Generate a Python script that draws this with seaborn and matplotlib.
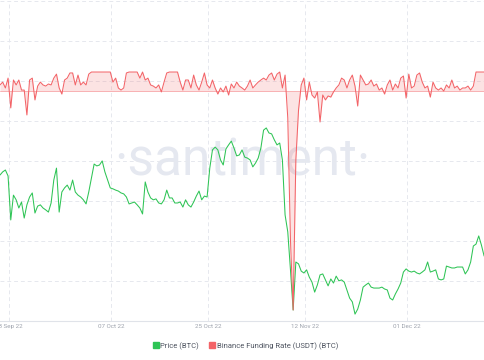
import numpy as np
import pandas as pd
import seaborn as sns
import matplotlib.pyplot as plt
import matplotlib.dates as mdates
from matplotlib.lines import Line2D

# 12-hourly samples, Sep 16 2022 08:00 -> Dec 15 2022 08:00
start = "2022-09-16 08:00"

price_btc = [
    19870, 19970, 20030, 19840, 18440, 19230, 19080, 18820, 19010, 18500,
    18920, 19170, 19300, 18660, 18880, 18920, 18820, 18760, 18690, 18980,
    19710, 20090, 18690, 19330, 19460, 19550, 19390, 19710, 19330, 19230,
    19170, 19080, 18950, 19330, 19780, 20220, 20160, 20190, 20320, 19970,
    19710, 19460, 19430, 19390, 19360, 19300, 19270, 19170, 18950, 18980,
    19010, 18920, 18820, 18630, 19650, 19330, 19140, 19080, 19110, 18980,
    18950, 19080, 19390, 19140, 19140, 18980, 18980, 19010, 18850, 19080,
    18920, 18850, 19010, 19200, 19360, 19080, 19200, 19170, 20090, 20670,
    20760, 20670, 20350, 20190, 20700, 20830, 20950, 20730, 20480, 20510,
    20670, 20440, 20410, 20350, 20130, 20250, 20410, 20730, 21300, 21370,
    21210, 21180, 20990, 20830, 20890, 20350, 18600, 18060, 16850, 15570,
    17100, 17040, 16810, 16750, 16850, 16620, 16460, 16140, 16370, 16690,
    16720, 16530, 16340, 16560, 16430, 16650, 16500, 16530, 16460, 16210,
    15950, 15830, 15440, 15600, 15890, 16300, 16370, 16430, 16300, 16270,
    16270, 16270, 16300, 16240, 16210, 15950, 15890, 16080, 16240, 16430,
    16780, 16880, 16810, 16780, 16810, 16750, 16720, 16780, 16850, 17100,
    16780, 16810, 16850, 16560, 16530, 16560, 16970, 16940, 16910, 16910,
    16940, 16940, 16940, 16720, 16850, 17100, 17610, 17670, 17930, 17640,
    17290,
]

funding_rate = [
    0.0032, 0.0047, 0.0016, 0.0068, -0.0089, 0.0058, 0.0032, 0.0058, 0.0005, 0.0005,
    -0.0126, 0.0058, 0.0068, -0.0047, 0.0026, 0.0047, 0.0032, 0.0026, 0.0037, 0.0032,
    0.0068, 0.0089, 0.0016, -0.0016, 0.0058, 0.0068, 0.0095, 0.0095, 0.0032, 0.0084,
    0.0032, 0.0047, 0.0032, 0.0089, 0.0100, 0.0100, 0.0100, 0.0100, 0.0100, 0.0100,
    0.0100, 0.0100, 0.0047, 0.0068, 0.0016, 0.0005, 0.0016, 0.0095, 0.0100, 0.0100,
    0.0100, 0.0100, 0.0068, 0.0100, 0.0058, 0.0068, 0.0032, 0.0026, 0.0016, 0.0032,
    -0.0005, 0.0047, 0.0095, 0.0100, 0.0100, 0.0100, 0.0100, 0.0047, 0.0005, 0.0058,
    0.0058, 0.0016, 0.0084, 0.0032, 0.0005, 0.0047, 0.0095, 0.0032, 0.0016, 0.0058,
    0.0016, -0.0016, 0.0016, -0.0005, 0.0026, -0.0021, 0.0037, 0.0016, 0.0047, 0.0026,
    0.0016, 0.0005, 0.0026, 0.0058, 0.0016, 0.0032, 0.0047, 0.0058, 0.0068, 0.0058,
    0.0084, 0.0095, 0.0058, 0.0089, 0.0100, 0.0016, 0.0084, -0.0142, -0.0784, -0.1153,
    -0.0363, -0.0100, 0.0032, 0.0068, -0.0047, 0.0047, -0.0021, -0.0037, -0.0005, -0.0163,
    -0.0021, -0.0047, -0.0026, -0.0032, -0.0005, 0.0016, 0.0032, 0.0068, 0.0058, 0.0016,
    0.0058, 0.0084, 0.0026, -0.0079, 0.0084, 0.0058, 0.0032, 0.0037, 0.0058, 0.0026,
    0.0037, 0.0005, 0.0016, -0.0016, 0.0032, 0.0058, 0.0005, 0.0037, 0.0016, 0.0068,
    0.0079, -0.0037, 0.0089, 0.0016, 0.0026, 0.0084, 0.0095, 0.0047, 0.0016, 0.0026,
    -0.0032, 0.0047, 0.0016, 0.0005, 0.0016, 0.0000, 0.0032, 0.0016, 0.0058, 0.0016,
    0.0026, 0.0005, 0.0016, 0.0016, 0.0026, 0.0005, 0.0026, 0.0100, 0.0100, 0.0100,
    0.0100,
]

tick_dates = ["2022-09-18", "2022-10-07", "2022-10-25", "2022-11-12", "2022-12-01"]

df = pd.DataFrame({
    "date": pd.date_range(start, periods=len(price_btc), freq="12h"),
    "price": price_btc,
    "funding": funding_rate,
})

green = "#2ec455"
red = "#f36468"

sns.set_style("white")
plt.rcParams["font.family"] = ["Roboto", "DejaVu Sans"]

fig = plt.figure(figsize=(4.85, 3.6), dpi=100)
ax = fig.add_axes([0, 39 / 360, 1, 320 / 360])
ax2 = ax.twinx()

# watermark
ax.text(0.5, 0.5, "\u00b7santiment\u00b7", transform=ax.transAxes, ha="center",
        va="center", fontsize=37, color="#e5e8f0", zorder=0)

sns.lineplot(data=df, x="date", y="price", ax=ax, color=green, linewidth=0.75, zorder=2)
sns.lineplot(data=df, x="date", y="funding", ax=ax2, color=red, linewidth=0.75, zorder=3)
ax2.fill_between(df["date"], df["funding"], 0, color=red, alpha=0.18, linewidth=0)
ax2.axhline(0, color=red, alpha=0.45, linewidth=0.7)

p_lo, p_hi = 15221, 25413
ax.set_ylim(p_lo, p_hi)
ax.set_yticks(np.linspace(p_lo, p_hi, 9))
ax2.set_ylim(-0.1211, 0.0474)
ax.set_xlim(pd.Timestamp("2022-09-16 08:00"), pd.Timestamp("2022-12-15 12:00"))

ax.set_xticks(pd.to_datetime(tick_dates))
ax.xaxis.set_major_formatter(mdates.DateFormatter("%d %b %y"))
ax.grid(True, color="#e6e8ee", linestyle=(0, (4, 3)), linewidth=0.7)
ax.tick_params(axis="x", length=0, pad=2, labelsize=4.5, labelcolor="#9ea3ad")
ax.tick_params(axis="y", left=False, labelleft=False)
ax2.tick_params(axis="y", right=False, labelright=False)

for a in (ax, ax2):
    a.set_xlabel("")
    a.set_ylabel("")
    for side in ("top", "left", "right"):
        a.spines[side].set_visible(False)
    a.spines["bottom"].set_color("#e0e3e9")
    a.spines["bottom"].set_linewidth(0.8)
ax2.spines["bottom"].set_visible(False)

handles = [
    Line2D([], [], marker="s", linestyle="", color=green, markersize=4),
    Line2D([], [], marker="s", linestyle="", color=red, markersize=4),
]
fig.legend(handles, ["Price (BTC)", "Binance Funding Rate (USDT) (BTC)"],
           loc="center", bbox_to_anchor=(0.505, 14 / 360), ncol=2, frameon=False,
           fontsize=5.5, labelcolor="#4f5561", handletextpad=0.1, columnspacing=1.2,
           handlelength=1.0)

fig.savefig("out.png", dpi=100)
